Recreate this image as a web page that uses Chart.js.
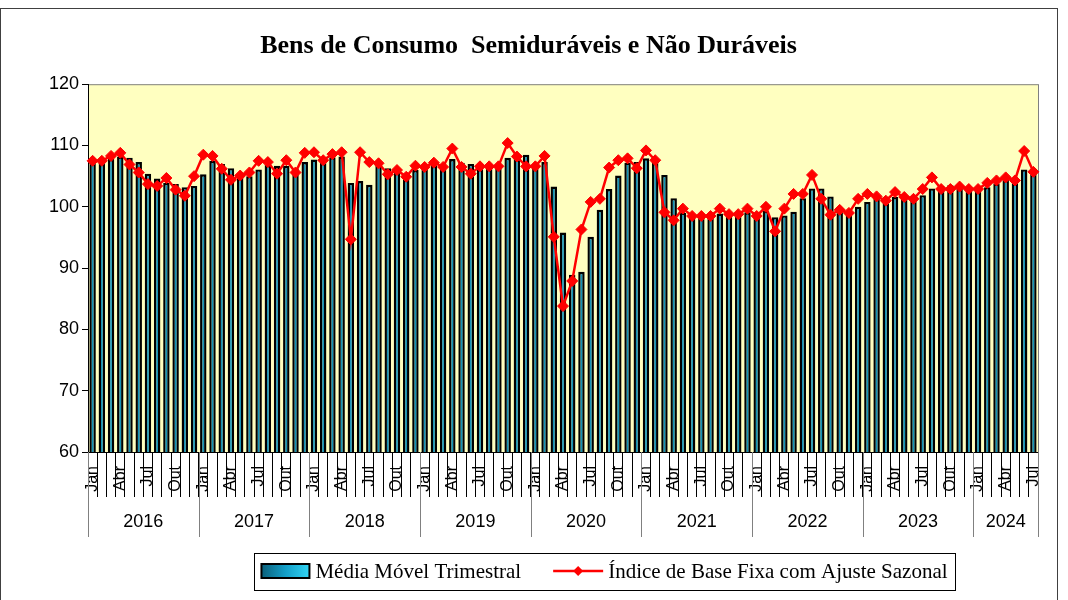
<!DOCTYPE html>
<html lang="pt">
<head>
<meta charset="utf-8">
<title>Bens de Consumo Semiduráveis e Não Duráveis</title>
<script src="https://cdn.jsdelivr.net/npm/chart.js@4.4.1/dist/chart.umd.min.js"></script>
<style>
  html, body { margin: 0; padding: 0; background: #fff; }
  #wrap { width: 1068px; height: 600px; }
</style>
</head>
<body>
<div id="wrap"><canvas id="chart" width="1068" height="600"></canvas></div>
<script>
const years = [2016, 2017, 2018, 2019, 2020, 2021, 2022, 2023, 2024];
const monthNames = ["Jan", "Fev", "Mar", "Abr", "Mai", "Jun", "Jul", "Ago", "Set", "Out", "Nov", "Dez"];
const shownMonths = ["Jan", "Abr", "Jul", "Out"];
const monthsLastYear = 7; // 2024 vai até Jul
const yTicks = [60, 70, 80, 90, 100, 110, 120];

// Média Móvel Trimestral (barras), jan/2016 a jul/2024
const mediaMovel = [
  107.2, 107.3, 107.8, 108.2, 108.0, 107.3, 105.4, 104.6, 103.9, 103.7, 103.2, 103.4, // 2016
  105.3, 107.5, 107.0, 106.3, 105.2, 105.0, 106.1, 106.8, 106.7, 106.7, 106.2, 107.3, // 2017
  107.7, 107.6, 108.1, 108.2, 103.9, 104.2, 103.6, 107.2, 106.3, 105.7, 105.3, 106.0, // 2018
  106.3, 107.0, 106.6, 107.8, 107.2, 107.0, 106.4, 106.4, 106.6, 108.0, 108.0, 108.5, // 2019
  107.0, 107.3, 103.3, 95.8, 88.9, 89.4, 95.1, 99.5, 102.9, 105.1, 107.2, 107.3,      // 2020
  107.9, 107.6, 105.2, 101.4, 99.0, 98.7, 98.6, 98.5, 98.9, 98.9, 98.9, 99.1,         // 2021
  98.9, 99.3, 98.3, 98.6, 99.2, 101.4, 103.0, 103.0, 101.7, 99.7, 99.3, 100.0,        // 2022
  100.8, 101.6, 101.6, 101.6, 101.8, 101.7, 101.9, 103.0, 103.4, 103.5, 103.0, 103.0, // 2023
  103.0, 103.2, 103.8, 104.4, 104.5, 106.1, 106.2                                     // 2024
];

// Índice de Base Fixa com Ajuste Sazonal (linha)
const indiceAjustado = [
  107.5, 107.5, 108.3, 108.8, 106.9, 105.6, 103.7, 103.4, 104.7, 102.8, 101.8, 105.0, // 2016
  108.5, 108.3, 106.2, 104.4, 105.1, 105.6, 107.5, 107.3, 105.4, 107.6, 105.6, 108.8, // 2017
  108.9, 107.6, 108.6, 108.9, 94.7, 108.9, 107.3, 107.1, 105.3, 106.0, 104.9, 106.7,  // 2018
  106.5, 107.2, 106.5, 109.5, 106.5, 105.4, 106.6, 106.6, 106.6, 110.4, 108.2, 106.6, // 2019
  106.6, 108.3, 95.1, 83.8, 87.9, 96.3, 100.8, 101.3, 106.4, 107.6, 107.9, 106.3,     // 2020
  109.2, 107.6, 99.1, 97.8, 99.7, 98.5, 98.5, 98.5, 99.7, 98.8, 98.8, 99.7,           // 2021
  98.5, 100.0, 96.0, 99.7, 102.1, 102.1, 105.2, 101.3, 98.7, 99.5, 99.0, 101.3,       // 2022
  102.1, 101.7, 101.0, 102.4, 101.6, 101.3, 102.9, 104.8, 102.9, 102.9, 103.3, 102.9, // 2023
  102.9, 103.9, 104.3, 104.8, 104.3, 109.1, 105.7                                     // 2024
];

// categorias mês/ano
const categories = [];
years.forEach((y, k) => {
  const n = k === years.length - 1 ? monthsLastYear : 12;
  for (let i = 0; i < n; i++) categories.push(monthNames[i] + "/" + y);
});
const yearCounts = years.map(y => categories.filter(c => c.endsWith("/" + y)).length);

const SANS = "'Liberation Sans', Arial, sans-serif";
const SERIF = "'Liberation Serif', 'Times New Roman', serif";

// fundo amarelo, molduras
const framePlugin = {
  id: "molduras",
  beforeDraw(chart) {
    const { ctx, chartArea: a } = chart;
    ctx.save();
    ctx.strokeStyle = "#404040";
    ctx.lineWidth = 1;
    ctx.strokeRect(0.5, 8.5, 1057, 600);
    ctx.fillStyle = "#FFFFC0";
    ctx.fillRect(a.left, a.top, a.right - a.left, a.bottom - a.top);
    ctx.strokeStyle = "#808080";
    ctx.strokeRect(a.left + 0.5, a.top + 0.5, a.right - a.left, a.bottom - a.top);
    ctx.restore();
  }
};

// segunda linha do eixo x: anos e separadores
const yearAxisPlugin = {
  id: "eixoAnos",
  afterDraw(chart) {
    const { ctx, chartArea: a } = chart;
    const xs = chart.scales.x;
    const step = xs.width / categories.length;
    ctx.save();
    ctx.font = "18px " + SANS;
    ctx.fillStyle = "#000";
    ctx.textAlign = "center";
    ctx.textBaseline = "middle";
    ctx.strokeStyle = "#808080";
    ctx.lineWidth = 1;
    let start = 0, x1 = 0;
    yearCounts.forEach((n, k) => {
      const x0 = xs.getPixelForValue(start) - step / 2;
      x1 = xs.getPixelForValue(start + n - 1) + step / 2;
      ctx.beginPath();
      ctx.moveTo(Math.round(x0) + 0.5, a.bottom);
      ctx.lineTo(Math.round(x0) + 0.5, a.bottom + 85);
      ctx.stroke();
      ctx.fillText(String(years[k]), (x0 + x1) / 2, a.bottom + 70);
      start += n;
    });
    ctx.beginPath();
    ctx.moveTo(Math.round(x1) + 0.5, a.bottom);
    ctx.lineTo(Math.round(x1) + 0.5, a.bottom + 85);
    ctx.stroke();
    ctx.restore();
  }
};

// legenda em caixa, como no original
const legendPlugin = {
  id: "legendaCaixa",
  afterDraw(chart) {
    const ctx = chart.ctx;
    const ds = chart.data.datasets;
    const sw = 50, gapText = 5, gapItem = 32;
    const cx = 604, cy = 571;
    ctx.save();
    ctx.font = "21px " + SERIF;
    const widths = ds.map(d => sw + gapText + ctx.measureText(d.label).width);
    const total = widths[0] + gapItem + widths[1];
    let x = cx - total / 2;

    ctx.strokeStyle = "#000";
    ctx.lineWidth = 1;
    ctx.strokeRect(Math.round(x - 6) + 0.5, Math.round(cy - 18) + 0.5, Math.round(total + 14), 37);

    // barra
    const grad = ctx.createLinearGradient(x, 0, x + sw, 0);
    grad.addColorStop(0, "#0b5d77");
    grad.addColorStop(0.5, "#139fc8");
    grad.addColorStop(1, "#33d6f6");
    ctx.fillStyle = grad;
    ctx.fillRect(x + 1, cy - 7, sw - 2, 14);
    ctx.lineWidth = 2;
    ctx.strokeRect(x + 1, cy - 7, sw - 2, 14);
    ctx.fillStyle = "#000";
    ctx.textBaseline = "middle";
    ctx.fillText(ds[0].label, x + sw + gapText, cy + 1);

    // linha
    x += widths[0] + gapItem;
    ctx.strokeStyle = "#ff0000";
    ctx.lineWidth = 2.5;
    ctx.beginPath();
    ctx.moveTo(x, cy);
    ctx.lineTo(x + sw, cy);
    ctx.stroke();
    ctx.fillStyle = "#ff0000";
    ctx.beginPath();
    ctx.moveTo(x + sw / 2, cy - 5);
    ctx.lineTo(x + sw / 2 + 5, cy);
    ctx.lineTo(x + sw / 2, cy + 5);
    ctx.lineTo(x + sw / 2 - 5, cy);
    ctx.closePath();
    ctx.fill();
    ctx.fillStyle = "#000";
    ctx.fillText(ds[1].label, x + sw + gapText, cy + 1);
    ctx.restore();
  }
};

new Chart(document.getElementById("chart"), {
  type: "bar",
  data: {
    labels: categories,
    datasets: [
      {
        type: "bar",
        label: "Média Móvel Trimestral",
        data: mediaMovel,
        backgroundColor: "#1392b8",
        borderColor: "#000",
        borderWidth: 2.4,
        barPercentage: 0.7,
        categoryPercentage: 1.0,
        order: 2
      },
      {
        type: "line",
        label: "Índice de Base Fixa com Ajuste Sazonal",
        data: indiceAjustado,
        borderColor: "#ff0000",
        borderWidth: 2.5,
        pointStyle: "rectRot",
        pointRadius: 5.5,
        pointBackgroundColor: "#ff0000",
        pointBorderColor: "#ff0000",
        pointBorderWidth: 1,
        tension: 0,
        order: 1
      }
    ]
  },
  options: {
    responsive: false,
    animation: false,
    devicePixelRatio: 1,
    layout: { padding: { top: 10, left: 19, right: 30, bottom: 0 } },
    plugins: {
      legend: { display: false },
      tooltip: { enabled: false },
      title: {
        display: true,
        text: "Bens de Consumo  Semiduráveis e Não Duráveis",
        color: "#000",
        font: { family: SERIF, size: 26, weight: "bold", lineHeight: 1.2 },
        padding: { top: 21, bottom: 22 }
      }
    },
    scales: {
      x: {
        offset: true,
        grid: {
          offset: true,
          drawOnChartArea: false,
          drawTicks: true,
          tickLength: 45,
          color: "#000",
          lineWidth: 1
        },
        border: { display: true, color: "#000", width: 1 },
        ticks: {
          autoSkip: false,
          minRotation: 90,
          maxRotation: 90,
          padding: -31,
          color: "#000",
          font: { family: SANS, size: 16 },
          callback: function (value) {
            const m = categories[value].split("/")[0];
            return shownMonths.includes(m) ? m : "";
          }
        },
        afterFit: s => { s.height = 148; }
      },
      y: {
        min: yTicks[0],
        max: yTicks[yTicks.length - 1],
        afterBuildTicks: s => { s.ticks = yTicks.map(v => ({ value: v })); },
        grid: {
          drawOnChartArea: false,
          drawTicks: true,
          tickLength: 6,
          color: "#000"
        },
        border: { display: true, color: "#000", width: 1 },
        ticks: {
          padding: 3,
          color: "#000",
          font: { family: SANS, size: 18 }
        },
        afterFit: s => { s.width = 69; }
      }
    }
  },
  plugins: [framePlugin, yearAxisPlugin, legendPlugin]
});
</script>
</body>
</html>
